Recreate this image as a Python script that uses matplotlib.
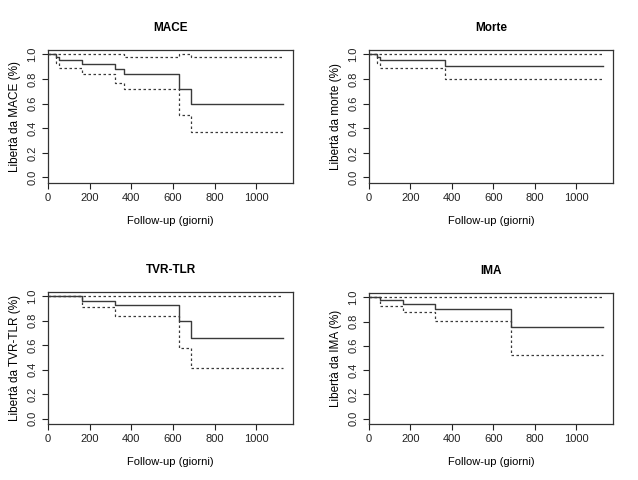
import numpy as np
from matplotlib import pyplot as plt

plt.rcParams['font.family'] = ['Liberation Sans', 'DejaVu Sans']

titles = ["MACE", "Morte", "TVR-TLR", "IMA"]
ylabels = ["Libertà da MACE (%)", "Libertà da morte (%)",
           "Libertà da TVR-TLR (%)", "Libertà da IMA (%)"]
xlabel = "Follow-up (giorni)"
t_end = 1130

# MACE
mace_t = [0, 40, 55, 165, 320, 365, 628, 685]
mace_s = [1.0, 0.975, 0.95, 0.925, 0.88, 0.84, 0.72, 0.60]
mace_lo = [1.0, 0.93, 0.89, 0.84, 0.77, 0.72, 0.51, 0.37]
mace_hi = [1.0, 1.0, 1.0, 1.0, 1.0, 0.98, 1.0, 0.98]

# Morte
morte_t = [0, 40, 55, 365]
morte_s = [1.0, 0.975, 0.95, 0.905]
morte_lo = [1.0, 0.93, 0.89, 0.80]
morte_hi = [1.0, 1.0, 1.0, 1.0]

# TVR-TLR
tvr_t = [0, 165, 320, 628, 685]
tvr_s = [1.0, 0.965, 0.93, 0.80, 0.66]
tvr_lo = [1.0, 0.915, 0.835, 0.58, 0.41]
tvr_hi = [1.0, 1.0, 1.0, 1.0, 1.0]

# IMA
ima_t = [0, 55, 165, 320, 685]
ima_s = [1.0, 0.975, 0.945, 0.905, 0.755]
ima_lo = [1.0, 0.925, 0.875, 0.805, 0.52]
ima_hi = [1.0, 1.0, 1.0, 1.0, 1.0]

data = [(mace_t, mace_s, mace_lo, mace_hi),
        (morte_t, morte_s, morte_lo, morte_hi),
        (tvr_t, tvr_s, tvr_lo, tvr_hi),
        (ima_t, ima_s, ima_lo, ima_hi)]

fig = plt.figure(figsize=(6.38, 4.8), dpi=100)
# axes boxes in pixels: left, top, right, bottom
boxes = [(48, 50, 293, 183), (369, 50, 613, 183),
         (48, 292, 293, 424), (369, 293, 613, 424)]
col = '#3a3a3a'
W, H = 638, 480
for i, (l, t, r, b) in enumerate(boxes):
    ax = fig.add_axes([l / W, 1 - b / H, (r - l) / W, (b - t) / H])
    tt, s, lo, hi = data[i]
    x = list(tt) + [t_end]
    ax.step(x, list(s) + [s[-1]], where='post', color=col, lw=1.0)
    ax.step(x, list(lo) + [lo[-1]], where='post', color=col, lw=0.9, ls=(0, (2, 2)))
    ax.step(x, list(hi) + [hi[-1]], where='post', color=col, lw=0.9, ls=(0, (2, 2)))
    ax.set_xlim(0, 1177)
    ax.set_ylim(-0.045, 1.035)
    ax.set_xticks([0, 200, 400, 600, 800, 1000])
    ax.set_yticks(np.arange(0, 1.01, 0.2))
    ax.set_yticklabels(["%.1f" % v for v in np.arange(0, 1.01, 0.2)],
                       rotation=90, va='center')
    ax.tick_params(labelsize=8, colors='#222222', length=4, width=0.8,
                   direction='out')
    for sp in ax.spines.values():
        sp.set_linewidth(0.9)
        sp.set_color('#333333')
    ax.set_title(titles[i], fontsize=8.5, fontweight='bold', pad=14)
    ax.set_xlabel(xlabel, fontsize=8, labelpad=9)
    ax.set_ylabel(ylabels[i], fontsize=8.5, labelpad=5)

fig.savefig("out.png", dpi=100)
